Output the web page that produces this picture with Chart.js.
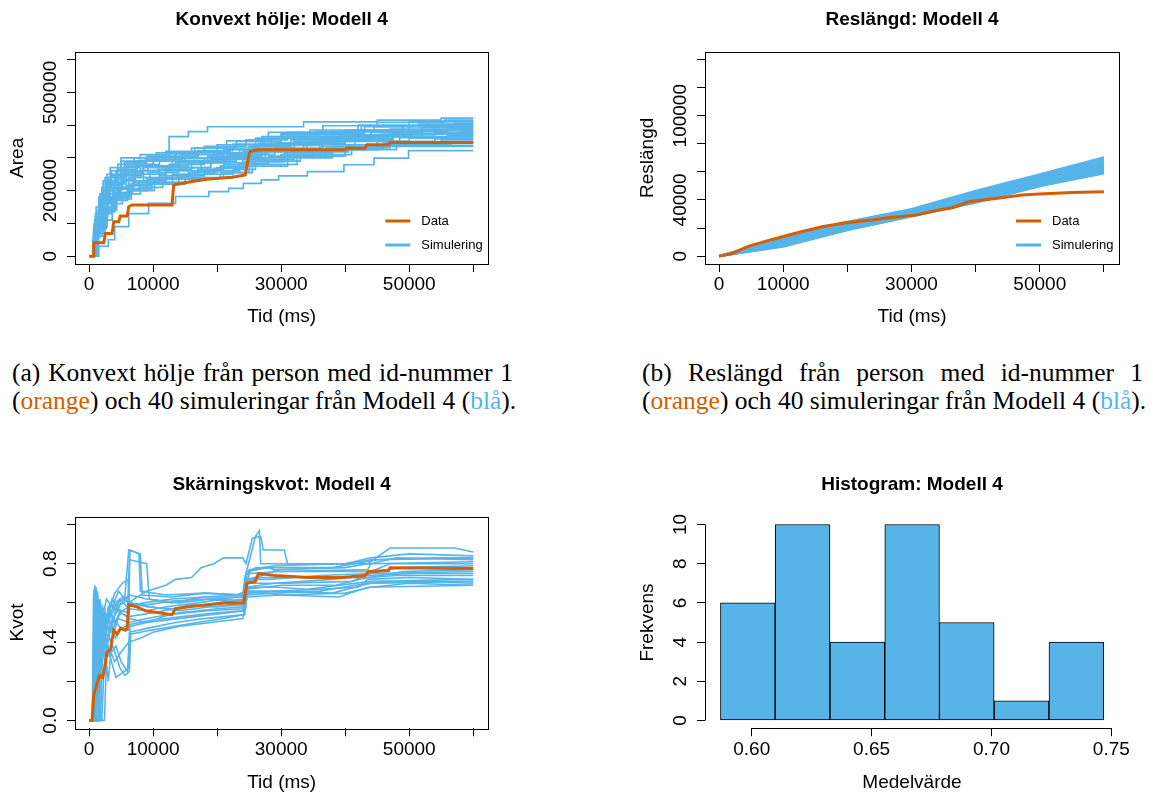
<!DOCTYPE html>
<html>
<head>
<meta charset="utf-8">
<script src="https://cdn.jsdelivr.net/npm/chart.js@4.4.1/dist/chart.umd.min.js"></script>
<style>
  body { margin: 0; background: #fff; width: 1151px; height: 793px; overflow: hidden; position: relative; }
  canvas { position: absolute; }
  .cap { position: absolute; font-family: "Liberation Serif", "Times New Roman", serif; font-size: 25.5px; line-height: 27.6px; color: #000; white-space: nowrap; }
  .just { width: 501px; text-align: justify; text-align-last: justify; white-space: normal; }
  .or { color: #D55E00; }
  .bl { color: #56B4E9; }
</style>
</head>
<body>
<canvas id="hullChart" width="575" height="340" style="left:0;top:0"></canvas>
<canvas id="lengthChart" width="521" height="340" style="left:630px;top:0"></canvas>
<canvas id="ratioChart" width="575" height="323" style="left:0;top:470px"></canvas>
<canvas id="histChart" width="521" height="323" style="left:630px;top:470px"></canvas>

<div class="cap just" style="left:12px;top:359px">(a) Konvext hölje från person med id-nummer 1</div>
<div class="cap" style="left:12px;top:387px">(<span class="or">orange</span>) och 40 simuleringar från Modell 4 (<span class="bl">blå</span>).</div>
<div class="cap just" style="left:642px;top:359px">(b) Reslängd från person med id-nummer 1</div>
<div class="cap" style="left:642px;top:387px">(<span class="or">orange</span>) och 40 simuleringar från Modell 4 (<span class="bl">blå</span>).</div>

<script>
// --- data ---
const timeTicks = [0, 10000, 20000, 30000, 40000, 50000, 60000];
const timeTickLabels = ['0', '10000', '', '30000', '', '50000', ''];

const areaTicks = [0, 100000, 200000, 300000, 400000, 500000, 600000];
const areaTickLabels = ['0', '', '200000', '', '', '500000', ''];

const lengthTicks = [0, 20000, 40000, 60000, 80000, 100000, 120000, 140000];
const lengthTickLabels = ['0', '', '40000', '', '', '100000', '', ''];

const ratioTicks = [0, 0.2, 0.4, 0.6, 0.8, 1.0];
const ratioTickLabels = ['0.0', '', '0.4', '', '0.8', ''];

const meanTicks = [0.60, 0.65, 0.70, 0.75];
const meanTickLabels = ['0.60', '0.65', '0.70', '0.75'];
const freqTicks = [0, 2, 4, 6, 8, 10];
const freqTickLabels = ['0', '2', '4', '6', '8', '10'];

// (a) convex hull area, person 1
const areaData = [[0,0],[730,0],[730,40800],[2290,40800],[2550,69400],[3590,69400],[3850,105100],[4630,105100],
  [4890,122400],[5930,122400],[6190,151000],[6710,156100],[12950,156100],[13210,217300],[14510,222400],
  [16070,227500],[18410,234600],[22310,240700],[24390,247900],[24910,304000],[25170,319300],[26360,324400],
  [39990,324400],[40250,329500],[43110,329500],[43370,339700],[46750,339700],[47010,346800],[60000,346800]];

// (a) simulations: [time of jump, new area]
const areaSims = [
  [[0,0],[800,90000],[1500,180000],[2500,240000],[5000,290000],[9000,305000],[12500,365000],[15500,380000],[18500,395000],[33500,410000],[45000,415000],[55000,421000],[60000,421000]],
  [[0,0],[1000,120000],[2000,200000],[4000,250000],[6000,280000],[10000,300000],[17000,320000],[22000,340000],[30000,370000],[42000,385000],[52000,400000],[60000,400000]],
  [[0,0],[700,60000],[1800,150000],[3000,220000],[5500,260000],[8000,275000],[14000,300000],[21000,330000],[26000,360000],[38000,380000],[50000,395000],[57000,405000],[60000,405000]],
  [[0,0],[1200,100000],[2500,170000],[4500,210000],[7000,240000],[11000,265000],[16000,285000],[24000,320000],[29000,345000],[40000,365000],[48000,380000],[56000,390000],[60000,390000]],
  [[0,0],[1500,30000],[3000,50000],[4000,90000],[6200,130000],[9300,161000],[13500,182000],[18700,197000],[21800,207000],[24100,222000],[26900,233000],[29600,245000],[34100,258000],[39800,279000],[44500,299000],[49900,322000],[60000,322000]],
  [[0,0],[1000,70000],[2200,130000],[3500,180000],[6000,215000],[9000,235000],[13000,250000],[17000,265000],[21000,280000],[25000,300000],[31000,320000],[36000,335000],[45000,350000],[50000,360000],[60000,360000]],
  [[0,0],[600,50000],[1400,140000],[2600,230000],[4200,260000],[7500,280000],[11000,290000],[15000,300000],[20000,315000],[28000,340000],[35000,355000],[44000,370000],[54000,378000],[60000,378000]],
  [[0,0],[900,80000],[2000,160000],[3200,200000],[5000,230000],[8500,250000],[12000,270000],[19000,295000],[25500,330000],[32000,350000],[41000,368000],[47000,388000],[60000,388000]],
  [[0,0],[1300,90000],[2800,150000],[4200,190000],[6500,220000],[10500,240000],[15500,255000],[20000,270000],[24500,290000],[30000,310000],[37000,330000],[46000,345000],[55000,355000],[60000,355000]],
  [[0,0],[800,100000],[1700,190000],[2800,250000],[4500,280000],[7000,300000],[10500,315000],[16000,330000],[23000,350000],[30000,375000],[43000,395000],[50000,410000],[60000,410000]],
  [[0,0],[1100,90000],[2300,140000],[3800,170000],[6000,200000],[9000,220000],[13000,235000],[18000,250000],[22500,265000],[26000,290000],[33000,310000],[41000,330000],[47000,338000],[60000,338000]],
  [[0,0],[700,70000],[1600,120000],[2900,175000],[4800,205000],[7800,230000],[12000,260000],[17500,285000],[22000,305000],[27000,325000],[34000,345000],[39000,365000],[52000,385000],[60000,385000]],
  [[0,0],[1400,110000],[2600,180000],[4000,225000],[5500,250000],[8500,270000],[13500,285000],[19500,300000],[24000,310000],[29000,330000],[36500,350000],[46000,372000],[58000,380000],[60000,380000]],
  [[0,0],[900,60000],[2100,110000],[3600,160000],[5200,190000],[8000,210000],[11500,225000],[16000,240000],[21000,255000],[25000,275000],[31000,300000],[38000,325000],[45000,340000],[51000,348000],[60000,348000]],
  [[0,0],[1000,130000],[2000,210000],[3500,260000],[5500,285000],[9000,295000],[14500,310000],[21000,325000],[26500,345000],[33000,365000],[40000,385000],[49000,398000],[60000,398000]],
  [[0,0],[1200,80000],[2400,145000],[4100,195000],[6800,225000],[11000,245000],[16500,260000],[20500,275000],[25500,295000],[32000,318000],[40500,340000],[48500,362000],[56000,368000],[60000,368000]],
  [[0,0],[600,40000],[1500,100000],[2700,150000],[4300,185000],[6400,205000],[9800,225000],[14000,245000],[18000,260000],[23500,282000],[28000,305000],[35000,325000],[43000,335000],[60000,335000]],
  [[0,0],[1100,150000],[2200,230000],[3300,270000],[5000,300000],[8000,310000],[12000,320000],[18000,335000],[24500,355000],[31000,378000],[42000,400000],[53000,412000],[60000,412000]],
  [[0,0],[800,70000],[1800,130000],[3000,190000],[4600,235000],[7200,260000],[10800,275000],[15500,290000],[21500,310000],[26000,338000],[36000,360000],[44000,378000],[52000,392000],[60000,392000]],
  [[0,0],[1300,100000],[2600,165000],[3900,205000],[6200,240000],[9500,255000],[14000,270000],[19000,290000],[23000,300000],[27500,318000],[33500,340000],[41500,355000],[47500,365000],[60000,365000]],
  [[0,0],[900,110000],[1900,175000],[3100,215000],[5200,245000],[8200,262000],[12500,280000],[18000,300000],[23500,325000],[29500,345000],[37500,362000],[45500,372000],[60000,372000]],
  [[0,0],[1100,90000],[2300,160000],[3700,210000],[5800,250000],[9200,275000],[14000,292000],[19500,312000],[25000,335000],[31500,355000],[39000,370000],[50500,383000],[60000,383000]],
  [[0,0],[700,80000],[1600,165000],[2700,225000],[4400,265000],[7300,290000],[11500,305000],[17000,322000],[22500,342000],[28500,365000],[35500,380000],[44500,395000],[60000,395000]],
  [[0,0],[1000,120000],[2100,200000],[3400,245000],[5600,275000],[8800,295000],[13500,315000],[20000,340000],[27000,365000],[34500,385000],[42500,398000],[51500,403000],[60000,403000]],
  [[0,0],[800,95000],[1800,185000],[3000,240000],[4900,270000],[7800,292000],[12000,312000],[16500,330000],[21500,352000],[28000,378000],[36500,398000],[45000,408000],[55500,415000],[60000,415000]],
  [[0,0],[1200,70000],[2500,135000],[4000,180000],[6300,215000],[9700,235000],[14500,250000],[19500,268000],[24000,288000],[30500,315000],[38000,335000],[46500,350000],[54000,358000],[60000,358000]],
  [[0,0],[1300,85000],[2700,140000],[4300,175000],[6600,200000],[10200,220000],[15000,238000],[20500,255000],[25500,280000],[32500,305000],[40000,325000],[48000,340000],[56500,345000],[60000,345000]],
  [[0,0],[900,100000],[2000,170000],[3300,220000],[5300,255000],[8400,275000],[13000,290000],[18500,305000],[24500,320000],[30000,342000],[38500,360000],[47500,375000],[60000,375000]]
];

// (b) path length, person 1
const lengthData = [[0,0],[2030,1900],[4630,7100],[8270,11900],[10870,15000],[13470,18100],[16070,20900],
  [19710,23800],[23870,25700],[26470,27300],[30630,29200],[34270,32800],[36350,34500],[38950,38700],
  [43110,41100],[47270,43500],[49870,44200],[55070,45400],[60000,45900]];

// (b) simulations, sampled at these times
const lengthSimTimes = [0, 10000, 20000, 30000, 40000, 50000, 60000];
const lengthSims = [
  [0, 13300, 24500, 33500, 46600, 58200, 70400],
  [0, 12800, 24000, 33000, 45800, 57300, 69200],
  [0, 12400, 23600, 32600, 45000, 56600, 68100],
  [0, 12000, 23100, 32100, 44300, 55800, 67000],
  [0, 11500, 22700, 31800, 43600, 55000, 66200],
  [0, 11100, 22200, 31400, 42900, 54300, 65400],
  [0, 10700, 21800, 31000, 42200, 53700, 64600],
  [0, 10200, 21400, 30600, 41600, 53000, 63800],
  [0, 9800, 21000, 30200, 41000, 52400, 63000],
  [0, 9400, 20600, 29800, 40400, 51800, 62200],
  [0, 8900, 20200, 29500, 39800, 51200, 61500],
  [0, 8400, 19700, 29100, 39300, 50700, 60700],
  [0, 7900, 19300, 28800, 38800, 50300, 60000],
  [0, 7300, 18900, 28500, 38300, 50000, 59400],
  [0, 6700, 18500, 28300, 38000, 49900, 58900]
];

// (c) intersection ratio, person 1
const ratioData = [[0,0],[470,0],[730,0.13],[1250,0.19],[1610,0.23],[2130,0.22],[2440,0.27],[2810,0.35],
  [3330,0.36],[3850,0.46],[4370,0.44],[4890,0.47],[5670,0.46],[5930,0.47],[6190,0.59],[7490,0.58],
  [8790,0.56],[10870,0.55],[12950,0.54],[13470,0.57],[15550,0.58],[18410,0.59],[21270,0.60],[24130,0.60],
  [24650,0.70],[25950,0.71],[26470,0.75],[29070,0.74],[34270,0.73],[39470,0.73],[43110,0.74],[43630,0.76],
  [46750,0.765],[47010,0.78],[60000,0.775]];

const ratioSims = [
  [[0,0],[500,0],[700,0.65],[900,0.10],[1100,0.68],[1400,0.30],[2000,0.55],[3000,0.50],[4000,0.58],[5500,0.60],[6200,0.87],[8000,0.85],[8300,0.64],[13000,0.63],[18000,0.65],[24000,0.64],[24400,0.74],[26000,0.78],[28000,0.78],[29800,0.76],[43500,0.77],[44000,0.80],[60000,0.81]],
  [[0,0],[600,0],[800,0.67],[1000,0.20],[1200,0.60],[1800,0.35],[2600,0.45],[3500,0.40],[4500,0.52],[6200,0.50],[9000,0.52],[14000,0.55],[20000,0.57],[24300,0.58],[24600,0.66],[30000,0.66],[42000,0.68],[43500,0.72],[50000,0.73],[60000,0.72]],
  [[0,0],[700,0],[900,0.69],[1100,0.05],[1300,0.50],[1700,0.25],[2400,0.55],[3200,0.45],[4300,0.57],[6000,0.55],[6300,0.82],[9000,0.80],[9400,0.62],[13000,0.60],[18000,0.63],[24000,0.63],[24500,0.75],[26000,0.94],[26600,0.97],[26800,0.80],[30000,0.80],[44000,0.80],[48000,0.83],[60000,0.82]],
  [[0,0],[2400,0],[2700,0.30],[3000,0.20],[3400,0.35],[4000,0.30],[5000,0.35],[6200,0.40],[8000,0.42],[10000,0.45],[14000,0.48],[19000,0.50],[24000,0.52],[24600,0.63],[30000,0.64],[40000,0.65],[44000,0.68],[50000,0.70],[60000,0.69]],
  [[0,0],[800,0],[1000,0.55],[1300,0.15],[1700,0.62],[2200,0.40],[3000,0.58],[3800,0.52],[4800,0.62],[6200,0.57],[9000,0.56],[12000,0.58],[17000,0.60],[21000,0.62],[24200,0.61],[24500,0.72],[28000,0.72],[36000,0.74],[44000,0.75],[48000,0.78],[60000,0.79]],
  [[0,0],[1000,0],[1200,0.40],[1600,0.62],[2000,0.30],[2500,0.50],[3300,0.58],[4000,0.65],[5200,0.70],[6100,0.72],[6300,0.60],[9000,0.58],[13000,0.57],[16000,0.59],[20000,0.58],[24000,0.60],[24500,0.68],[29000,0.70],[38000,0.72],[43500,0.74],[51000,0.75],[60000,0.75]],
  [[0,0],[600,0],[750,0.60],[950,0.08],[1150,0.45],[1600,0.20],[2300,0.40],[3100,0.33],[4200,0.38],[5000,0.30],[6000,0.25],[6300,0.45],[9000,0.47],[13500,0.50],[18000,0.52],[24300,0.54],[24700,0.65],[30000,0.66],[38000,0.65],[44000,0.70],[60000,0.71]],
  [[0,0],[1800,0],[2100,0.35],[2600,0.50],[3400,0.45],[4400,0.60],[5500,0.62],[6300,0.64],[9000,0.62],[14000,0.60],[19000,0.62],[24500,0.63],[25000,0.75],[30000,0.76],[44000,0.76],[47000,0.80],[60000,0.80]],
  [[0,0],[900,0],[1100,0.62],[1400,0.25],[1900,0.55],[2700,0.48],[3600,0.62],[4800,0.55],[6200,0.53],[10000,0.55],[15000,0.58],[20000,0.60],[24200,0.62],[24600,0.70],[26000,0.73],[33000,0.73],[44000,0.73],[49000,0.76],[60000,0.77]],
  [[0,0],[1400,0],[1600,0.20],[2000,0.45],[2600,0.30],[3300,0.50],[4100,0.42],[5000,0.47],[6300,0.49],[9500,0.51],[14500,0.53],[20000,0.55],[24000,0.56],[24500,0.64],[29000,0.65],[36000,0.66],[43500,0.70],[52000,0.71],[60000,0.70]],
  [[0,0],[700,0],[850,0.68],[1050,0.40],[1300,0.66],[1700,0.45],[2100,0.58],[3000,0.52],[4000,0.60],[5300,0.63],[6200,0.62],[6400,0.87],[7800,0.85],[8000,0.66],[12000,0.64],[18000,0.65],[24300,0.64],[24600,0.76],[28000,0.78],[38000,0.78],[45000,0.82],[60000,0.83]],
  [[0,0],[2000,0],[2300,0.25],[2800,0.40],[3500,0.30],[4200,0.22],[5500,0.25],[6200,0.27],[6400,0.48],[9000,0.50],[14000,0.52],[19000,0.54],[24400,0.56],[24800,0.68],[29500,0.68],[34000,0.67],[44000,0.71],[60000,0.72]],
  [[0,0],[800,0],[1000,0.50],[1250,0.10],[1600,0.48],[2100,0.30],[2900,0.52],[3800,0.47],[4700,0.55],[6200,0.58],[8500,0.60],[13000,0.62],[18000,0.63],[23000,0.64],[24500,0.66],[25000,0.77],[29000,0.79],[40000,0.80],[44000,0.82],[54000,0.83],[60000,0.83]],
  [[0,0],[1200,0],[1400,0.45],[1800,0.60],[2400,0.38],[3100,0.56],[4000,0.50],[5000,0.55],[6300,0.52],[9000,0.50],[12500,0.54],[18500,0.56],[24000,0.57],[24500,0.67],[30000,0.69],[38500,0.69],[43500,0.73],[48000,0.74],[60000,0.74]],
  [[0,0],[1600,0],[1900,0.40],[2500,0.55],[3200,0.42],[4000,0.35],[4800,0.27],[5600,0.23],[6300,0.25],[6500,0.44],[9500,0.46],[15000,0.49],[21000,0.52],[24200,0.54],[24600,0.66],[30000,0.64],[39000,0.63],[43500,0.68],[60000,0.69]],
  [[0,0],[750,0],[950,0.66],[1200,0.35],[1500,0.60],[2000,0.50],[2700,0.62],[3600,0.58],[4600,0.66],[6200,0.60],[9000,0.59],[13000,0.61],[18500,0.62],[24300,0.60],[24700,0.72],[27000,0.74],[29500,0.77],[40000,0.78],[43500,0.80],[47000,0.88],[57000,0.88],[60000,0.86]],
  [[0,0],[1100,0],[1300,0.35],[1700,0.55],[2400,0.45],[3300,0.60],[4300,0.55],[5300,0.62],[6300,0.60],[7000,0.62],[9000,0.66],[12000,0.69],[13500,0.72],[16000,0.73],[17500,0.78],[19500,0.80],[21000,0.83],[24000,0.83],[24500,0.80],[25500,0.93],[26800,0.94],[27200,0.87],[30500,0.87],[31000,0.80],[40000,0.80],[44000,0.83],[50000,0.85],[60000,0.84]],
  [[0,0],[900,0],[1100,0.58],[1500,0.12],[2000,0.50],[2800,0.40],[3700,0.53],[4700,0.48],[6200,0.46],[6300,0.60],[9500,0.58],[14000,0.56],[19000,0.58],[24300,0.59],[24700,0.70],[31000,0.70],[41000,0.71],[44000,0.75],[60000,0.76]]
];

// (d) histogram of means
const binEdges = [0.5869, 0.6098, 0.6326, 0.6555, 0.6783, 0.7011, 0.7240, 0.7468];
const binCounts = [6, 10, 4, 10, 5, 1, 4];

// --- styling ---
const ORANGE = '#D55E00';
const BLUE = '#56B4E9';
const FONT = '"Liberation Sans", Arial, Helvetica, sans-serif';

Chart.defaults.font.family = FONT;
Chart.defaults.font.size = 19;
Chart.defaults.color = '#000';
Chart.defaults.elements.point.radius = 0;
Chart.defaults.elements.line.tension = 0;

function fixedTicks(values) {
  return scale => { scale.ticks = values.map(v => ({ value: v })); };
}

function xAxis(min, max, values, labels, title, labelPad, titlePad, height) {
  return {
    type: 'linear', position: 'bottom', min, max, offset: false,
    afterBuildTicks: fixedTicks(values),
    afterFit: s => { s.height = height; },
    grid: { drawOnChartArea: false, drawTicks: true, tickLength: 8, color: '#000', offset: false },
    border: { display: false },
    ticks: { autoSkip: false, maxRotation: 0, minRotation: 0, padding: labelPad, callback: (v, i) => labels[i] },
    title: { display: true, text: title, padding: { top: 0, bottom: titlePad } }
  };
}

function yAxis(min, max, values, labels, title, labelPad) {
  return {
    type: 'linear', position: 'left', min, max,
    afterBuildTicks: fixedTicks(values),
    afterFit: s => { s.width = 75; },
    grid: { drawOnChartArea: false, drawTicks: true, tickLength: 8, color: '#000' },
    border: { display: false },
    ticks: { autoSkip: false, minRotation: 90, maxRotation: 90, crossAlign: 'center', padding: labelPad, callback: (v, i) => labels[i] },
    title: { display: true, text: title, padding: { top: 6.6, bottom: 0 } }
  };
}

// box, main title, legend and histogram axis lines, drawn R-style
const rPlot = {
  id: 'rPlot',
  afterDatasetsDraw(chart, args, opts) {
    const { ctx, chartArea: a } = chart;
    ctx.save();
    ctx.strokeStyle = '#000';
    ctx.lineWidth = 1;
    if (opts.box) {
      ctx.strokeRect(Math.round(a.left) + 0.5, Math.round(a.top) + 0.5,
        Math.round(a.right - a.left), Math.round(a.bottom - a.top));
    }
    if (opts.axisLines) {
      const sx = chart.scales.x, sy = chart.scales.y;
      const yb = Math.round(a.bottom) + 0.5, xl = Math.round(a.left) + 0.5;
      ctx.beginPath();
      ctx.moveTo(sx.getPixelForValue(meanTicks[0]), yb);
      ctx.lineTo(sx.getPixelForValue(meanTicks[meanTicks.length - 1]), yb);
      ctx.moveTo(xl, sy.getPixelForValue(freqTicks[0]));
      ctx.lineTo(xl, sy.getPixelForValue(freqTicks[freqTicks.length - 1]));
      ctx.stroke();
    }
    ctx.fillStyle = '#000';
    ctx.font = 'bold 19px ' + FONT;
    ctx.textAlign = 'center';
    ctx.textBaseline = 'middle';
    ctx.fillText(opts.title, (a.left + a.right) / 2, opts.titleY);
    if (opts.legend) {
      ctx.font = '13px ' + FONT;
      ctx.textAlign = 'left';
      ctx.lineWidth = 3;
      [['Data', ORANGE, a.bottom - 43], ['Simulering', BLUE, a.bottom - 19]].forEach(([label, color, y]) => {
        ctx.strokeStyle = color;
        ctx.beginPath();
        ctx.moveTo(a.right - 103, y);
        ctx.lineTo(a.right - 78, y);
        ctx.stroke();
        ctx.fillText(label, a.right - 67, y);
      });
    }
    ctx.restore();
  }
};

const baseOptions = {
  responsive: false,
  animation: false,
  devicePixelRatio: 1,
  events: []
};

function lineSet(data, color, width, stepped) {
  return { data, borderColor: color, backgroundColor: color, borderWidth: width, stepped: stepped || false, fill: false };
}

// (a) Konvext hölje
new Chart(document.getElementById('hullChart'), {
  type: 'line',
  data: {
    datasets: [lineSet(areaData, ORANGE, 3)].concat(areaSims.map(s => lineSet(s, BLUE, 1.7, 'before')))
  },
  options: Object.assign({}, baseOptions, {
    layout: { autoPadding: false, padding: { top: 51.7, right: 86.7, left: 0, bottom: 0 } },
    scales: {
      x: xAxis(-2200, 62350, timeTicks, timeTickLabels, 'Tid (ms)', 1.3, 11.9, 76),
      y: yAxis(-24000, 624000, areaTicks, areaTickLabels, 'Area', -15)
    },
    plugins: {
      legend: { display: false }, tooltip: { enabled: false },
      rPlot: { title: 'Konvext hölje: Modell 4', titleY: 20, box: true, legend: true }
    }
  }),
  plugins: [rPlot]
});

// (b) Reslängd
new Chart(document.getElementById('lengthChart'), {
  type: 'line',
  data: {
    datasets: [lineSet(lengthData, ORANGE, 3)].concat(
      lengthSims.map(s => lineSet(s.map((v, i) => [lengthSimTimes[i], v]), BLUE, 2.2)))
  },
  options: Object.assign({}, baseOptions, {
    layout: { autoPadding: false, padding: { top: 51.7, right: 32, left: 0, bottom: 0 } },
    scales: {
      x: xAxis(-2200, 62350, timeTicks, timeTickLabels, 'Tid (ms)', 1.3, 11.9, 76),
      y: yAxis(-5600, 145600, lengthTicks, lengthTickLabels, 'Reslängd', -15)
    },
    plugins: {
      legend: { display: false }, tooltip: { enabled: false },
      rPlot: { title: 'Reslängd: Modell 4', titleY: 20, box: true, legend: true }
    }
  }),
  plugins: [rPlot]
});

// (c) Skärningskvot
new Chart(document.getElementById('ratioChart'), {
  type: 'line',
  data: {
    datasets: [lineSet(ratioData, ORANGE, 3)].concat(ratioSims.map(s => lineSet(s, BLUE, 1.6)))
  },
  options: Object.assign({}, baseOptions, {
    layout: { autoPadding: false, padding: { top: 46.7, right: 86.7, left: 0, bottom: 0 } },
    scales: {
      x: xAxis(-2200, 62350, timeTicks, timeTickLabels, 'Tid (ms)', 2, -1, 64.7),
      y: yAxis(-0.04, 1.04, ratioTicks, ratioTickLabels, 'Kvot', 3.5)
    },
    plugins: {
      legend: { display: false }, tooltip: { enabled: false },
      rPlot: { title: 'Skärningskvot: Modell 4', titleY: 14.7, box: true }
    }
  }),
  plugins: [rPlot]
});

// (d) Histogram
new Chart(document.getElementById('histChart'), {
  type: 'bar',
  data: {
    datasets: [{
      data: binCounts.map((c, i) => ({ x: (binEdges[i] + binEdges[i + 1]) / 2, y: c })),
      backgroundColor: BLUE,
      borderColor: '#000',
      borderWidth: 1,
      borderSkipped: false,
      barPercentage: 1,
      categoryPercentage: 1
    }]
  },
  options: Object.assign({}, baseOptions, {
    layout: { autoPadding: false, padding: { top: 46.7, right: 32, left: 0, bottom: 0 } },
    scales: {
      x: xAxis(0.5805, 0.7532, meanTicks, meanTickLabels, 'Medelvärde', 2, -1, 64.7),
      y: yAxis(-0.4, 10.4, freqTicks, freqTickLabels, 'Frekvens', 6.1)
    },
    plugins: {
      legend: { display: false }, tooltip: { enabled: false },
      rPlot: { title: 'Histogram: Modell 4', titleY: 14.7, axisLines: true }
    }
  }),
  plugins: [rPlot]
});
</script>
</body>
</html>
